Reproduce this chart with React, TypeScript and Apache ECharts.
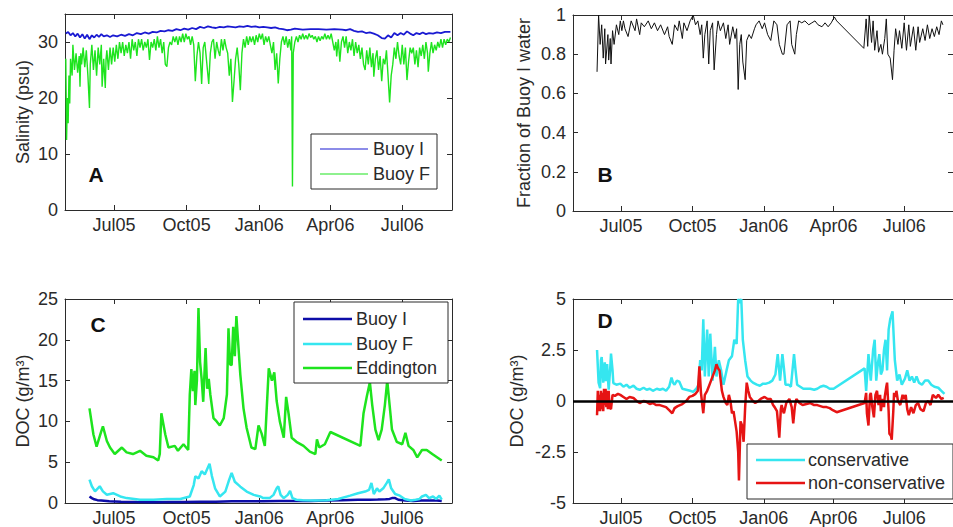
import React, { useEffect, useRef } from "react";
import * as echarts from "echarts";

// ---------- time axis (days counted from 2005-05-01) ----------
const DAY_MS = 86400000;
const DAY0 = Date.UTC(2005, 4, 1);
const X_START_DAY = -1; // 2005-04-30
const X_END_DAY = 489; // 2006-09-02
const tickDates = ["2005-07-01", "2005-10-01", "2006-01-01", "2006-04-01", "2006-07-01"];
const tickLabels = ["Jul05", "Oct05", "Jan06", "Apr06", "Jul06"];

// ---------- Panel A : salinity (psu) ----------
const salinityBuoyI: [number, number][] = [
  [0,31.5],[3,31.8],[6,31.2],[9,31.6],[12,31],[15,31.5],[18,30.8],[21,31.4],[24,30.6],[27,31.3],[30,30.5],[33,31.2],[36,30.8],[39,31.3],[42,30.9],[45,31.4],[48,31],[52,31.2],[56,30.9],[60,31.2],[65,31],[70,31.3],[75,31.1],[80,31.4],[85,31.2],[90,31.6],[95,31.4],[100,31.7],[105,31.5],[110,31.8],[115,31.7],[120,32],[125,31.9],[130,32.1],[135,32],[140,32.3],[145,32.1],[150,32.4],[155,32.2],[160,32.5],[165,32.3],[170,32.7],[175,32.5],[180,32.8],[185,32.6],[190,32.5],[195,32.7],[200,32.6],[205,32.8],[210,32.7],[215,32.6],[220,32.8],[225,32.7],[230,32.9],[235,32.7],[240,32.8],[245,32.6],[250,32.7],[255,32.6],[260,32.5],[265,32.6],[270,32.4],[275,32.3],[280,32.1],[285,32.2],[290,32.4],[295,32.3],[300,32.2],[310,32.3],[320,32.3],[330,32.2],[340,32.3],[350,32.2],[355,32.1],[360,32.3],[365,32],[370,31.8],[375,31.9],[380,31.6],[385,31.7],[390,31.5],[395,31.2],[400,30.7],[404,30.6],[408,31.2],[412,30.8],[416,31.6],[420,31.2],[424,31.6],[428,31.3],[432,31.9],[436,31.5],[440,31.2],[444,31.6],[448,31.4],[452,31.7],[456,31.4],[460,31.6],[465,31.5],[470,31.7],[475,31.6],[480,31.8],[487,31.8]
];
const salinityBuoyF: [number, number][] = [
  [0,27],[1,12.5],[2,20],[3,15.5],[4,24],[5,19],[6,27],[8,24],[9,29.5],[11,25],[13,28],[15,24.5],[17,27.5],[18,22],[19,28],[20,26],[22,29],[24,25.5],[26,28.5],[28,24],[30,18.2],[31,26],[33,29.5],[35,25],[37,28.5],[39,24],[41,29],[43,26],[45,29.5],[46,22],[48,27],[50,21.8],[51,27],[52,28.5],[54,25],[56,29],[58,26],[60,29],[62,26.5],[64,29.5],[66,27],[68,30],[70,28],[72,30],[74,27.5],[76,29.5],[78,28],[80,30],[82,27],[84,30.5],[86,28.5],[88,30],[90,27.5],[92,30.5],[94,29],[96,30.5],[98,28.5],[100,30],[102,29],[104,30.5],[106,26.8],[108,30],[110,29],[112,30.5],[114,28.5],[116,31],[118,29],[120,30.5],[122,28],[124,30],[126,26],[128,25.6],[130,29],[132,30],[134,29.5],[136,31],[138,30],[140,31],[142,29.5],[144,31],[146,30],[148,31.5],[150,30],[152,31.5],[154,30.5],[156,31],[158,29.5],[160,31],[162,29.5],[164,23],[166,27.5],[168,30],[170,28],[172,22.5],[174,29],[176,30],[178,27],[181,22.5],[183,28],[185,30],[187,30.5],[189,27],[191,30],[193,28.5],[195,27.5],[197,30.5],[199,28.5],[201,30.5],[203,29],[205,28],[207,24],[209,27],[211,19.3],[213,23],[215,27],[217,29],[219,26],[221,21.4],[223,28],[225,30.5],[227,29],[229,31],[231,29.5],[233,31],[235,30],[237,31],[239,29.5],[241,31.2],[243,30],[245,31.5],[247,30.5],[249,31.5],[251,29.5],[253,31],[255,30],[257,31],[259,29.5],[261,28],[263,30],[265,25],[267,28],[269,22.6],[271,27],[273,30],[275,31],[277,29.5],[279,31],[281,29],[283,30.5],[285,28.5],[286,31],[287,4.2],[288,28],[290,30],[292,31],[294,30],[296,31.2],[298,30.5],[300,31.5],[302,30.5],[304,31.2],[306,30.5],[308,31.5],[310,30.8],[312,31.2],[314,30.5],[316,31],[318,30],[320,31],[322,30.2],[324,31],[326,30.5],[328,31.5],[330,30.5],[332,31.2],[334,30.5],[336,31.5],[338,30],[340,28.5],[342,30],[343,27.4],[345,30.5],[347,26.5],[349,30],[351,31],[353,29],[355,31],[357,28],[359,30],[361,28.5],[363,30.5],[365,27.5],[367,30],[369,28],[371,29.5],[373,27],[375,29],[377,26],[379,25],[381,28.5],[383,26],[385,29],[387,25.5],[389,28],[390,23.8],[392,27],[394,28.5],[396,25],[398,27.5],[400,23],[402,27],[404,26],[406,28.5],[408,24],[410,19.2],[412,24],[414,26],[416,29],[418,27],[420,30],[422,27.5],[424,26],[426,29.5],[428,26],[430,29],[432,23.2],[434,26.5],[436,29],[438,28],[440,29],[442,26],[444,28.5],[446,25.5],[448,29],[450,27.5],[452,29.5],[454,27],[456,30],[458,28],[459,24.7],[461,28],[463,30],[465,28],[467,29.5],[469,28.5],[471,30],[473,29],[475,30.5],[477,29],[479,30.5],[481,29.5],[483,30.5],[485,30],[487,30.8]
];

// ---------- Panel B : fraction of Buoy I water ----------
const fractionBuoyI: [number, number][] = [
  [30,0.71],[32,1.0],[34,0.85],[36,0.95],[38,0.78],[40,0.93],[41,0.75],[44,0.9],[45,0.77],[47,0.88],[48,0.75],[50,0.92],[52,0.85],[55,0.95],[58,0.9],[60,0.97],[62,0.92],[64,0.97],[66,0.93],[70,0.89],[74,0.97],[79,0.92],[81,0.98],[85,0.9],[87,0.96],[91,0.94],[96,0.97],[100,0.93],[104,0.96],[108,0.92],[112,0.95],[117,0.9],[121,0.94],[123,0.89],[127,0.85],[130,0.95],[134,0.92],[136,0.97],[140,0.88],[142,0.96],[146,0.92],[150,0.97],[154,1.0],[157,0.95],[160,0.97],[163,0.9],[165,0.95],[167,0.78],[169,0.9],[172,0.97],[174,0.75],[176,0.92],[179,0.96],[181,0.72],[184,0.9],[186,0.97],[189,0.92],[193,0.96],[196,0.88],[199,0.95],[201,0.85],[205,0.94],[208,0.88],[210,0.93],[212,0.62],[214,0.85],[216,0.9],[218,0.76],[221,0.67],[223,0.87],[226,0.9],[229,0.88],[233,0.93],[235,0.95],[239,0.97],[243,0.93],[246,0.96],[250,0.9],[254,0.87],[258,0.97],[262,0.95],[265,0.85],[269,0.8],[271,0.8],[275,0.95],[279,0.97],[281,0.85],[285,0.8],[287,0.9],[290,0.97],[294,0.96],[298,0.97],[303,0.95],[307,0.96],[311,0.97],[315,0.95],[320,0.94],[324,0.96],[328,0.94],[332,0.96],[336,0.99],[339,0.97],[374,0.83],[377,0.98],[379,0.84],[381,1.0],[384,0.86],[386,0.97],[388,0.82],[391,0.92],[393,0.81],[396,0.85],[398,0.8],[401,0.88],[403,0.98],[405,0.8],[408,0.78],[411,0.67],[413,0.82],[415,0.93],[418,0.85],[420,0.92],[423,0.83],[426,0.96],[429,0.82],[432,0.95],[434,0.84],[438,0.94],[441,0.82],[444,0.94],[446,0.86],[450,0.93],[453,0.87],[456,0.95],[459,0.88],[462,0.93],[465,0.89],[468,0.94],[471,0.9],[474,0.97],[476,0.95]
];

// ---------- Panel C : DOC (g/m3) ----------
const docBuoyI: [number, number][] = [
  [30,0.8],[33,0.6],[36,0.45],[40,0.35],[45,0.3],[55,0.2],[70,0.15],[90,0.12],[110,0.1],[130,0.12],[150,0.12],[170,0.15],[190,0.15],[210,0.2],[230,0.2],[250,0.2],[270,0.25],[290,0.25],[310,0.25],[330,0.3],[350,0.35],[370,0.4],[385,0.4],[395,0.42],[405,0.45],[410,0.5],[413,0.6],[417,0.6],[421,0.4],[430,0.3],[440,0.25],[450,0.3],[460,0.3],[470,0.3],[476,0.25]
];
const docBuoyF: [number, number][] = [
  [30,2.86],[33,2.05],[37,1.43],[43,2.05],[47,1.43],[52,1.02],[60,1.2],[69,0.8],[77,0.6],[94,0.4],[111,0.4],[128,0.5],[145,0.5],[157,0.8],[162,2.2],[164,3.27],[168,3.0],[172,3.9],[176,3.5],[182,4.8],[185,3.3],[189,1.8],[195,0.8],[202,1.4],[206,2.6],[210,3.7],[214,2.6],[221,2.0],[229,1.4],[238,1.0],[246,0.8],[250,0.6],[258,0.6],[263,1.0],[267,1.8],[269,2.05],[272,1.0],[276,0.6],[281,1.0],[284,1.5],[287,0.6],[292,0.4],[300,0.35],[315,0.3],[330,0.35],[345,0.5],[360,0.9],[370,1.2],[379,1.4],[384,1.6],[387,2.45],[390,1.1],[394,1.8],[397,1.4],[402,1.8],[406,2.4],[409,2.9],[412,1.8],[417,1.1],[423,0.9],[429,0.5],[437,0.3],[443,0.4],[448,0.5],[451,0.8],[456,1.0],[460,0.6],[465,0.8],[469,0.5],[473,0.9],[476,0.4]
];
const docEddington: [number, number][] = [
  [30,11.6],[35,8.4],[39,6.9],[45,8.8],[47,9.4],[52,7.6],[56,6.8],[62,6.0],[71,6.8],[77,6.2],[85,6.0],[94,6.4],[102,5.8],[111,5.6],[117,5.2],[119,6.0],[121,11.0],[126,8.4],[130,6.8],[138,7.0],[142,6.4],[149,7.2],[155,6.5],[157,13.3],[159,16.4],[161,13.7],[163,16.2],[164,12],[166,15.0],[168,23.9],[170,17.3],[172,15.2],[174,12.4],[177,19.0],[179,14],[181,15.2],[183,13.3],[187,10.4],[191,10.0],[195,9.5],[200,10.4],[204,13.3],[206,21.4],[208,17],[210,16.9],[212,21.6],[214,18],[216,22.9],[218,20],[221,15.7],[225,11.6],[229,9.2],[235,6.8],[240,6.6],[244,9.5],[248,8.5],[252,7],[257,16.5],[261,15],[264,16],[267,12.5],[271,10],[276,8],[279,13],[282,11],[286,8],[292,7.5],[301,7],[309,6.3],[316,6],[318,7.8],[321,6.8],[328,7.2],[335,8.7],[373,7],[377,11],[381,13],[385,14.8],[388,12],[392,9],[396,7.7],[400,9],[404,12],[407,15],[410,12],[413,9],[419,7.5],[426,7.2],[430,8.6],[434,7],[440,6.5],[445,5.6],[451,6.5],[457,6.5],[464,6],[470,5.6],[476,5.2]
];

// ---------- Panel D : DOC decomposition (g/m3) ----------
const docConservative: [number, number][] = [
  [30,2.5],[32,0.9],[34,0.63],[35,2.0],[36,2.15],[38,0.9],[40,1.9],[41,0.97],[43,1.81],[45,0.55],[47,1.6],[48,2.32],[50,1.5],[51,0.88],[55,0.8],[60,0.85],[64,0.7],[68,0.8],[72,0.65],[77,0.75],[81,0.6],[85,0.55],[90,0.65],[94,0.55],[98,0.6],[102,0.5],[107,0.6],[111,0.55],[115,0.6],[119,0.5],[123,0.7],[126,1.15],[128,0.9],[130,0.8],[133,1.0],[136,0.95],[140,0.6],[145,0.55],[150,0.5],[154,0.45],[158,0.6],[161,0.8],[163,2.0],[165,1.5],[167,4.0],[169,1.2],[172,3.5],[174,1.2],[176,3.3],[179,1.0],[182,2.65],[184,1.2],[187,2.0],[190,1.5],[193,0.8],[197,1.5],[200,2.0],[204,2.2],[207,3.0],[210,2.8],[212,5.0],[214,4.8],[216,5.0],[218,3.0],[221,2.0],[224,1.2],[228,1.0],[231,0.9],[236,0.8],[240,0.75],[244,0.85],[248,0.85],[252,0.9],[256,1.0],[260,1.3],[263,2.3],[266,1.0],[269,2.3],[271,1.6],[273,0.8],[277,0.8],[280,0.7],[284,2.3],[286,1.5],[288,0.8],[292,0.7],[296,0.6],[301,0.6],[305,0.6],[310,0.55],[314,0.6],[318,0.7],[322,0.75],[326,0.7],[330,0.6],[335,0.6],[375,1.6],[377,0.5],[380,2.3],[383,1.0],[386,2.5],[388,3.0],[390,1.0],[392,1.8],[394,2.3],[396,1.3],[398,1.5],[400,2.5],[402,3.0],[404,1.5],[406,3.5],[408,4.0],[411,4.4],[414,2.0],[417,1.0],[420,1.3],[423,0.8],[427,1.1],[430,1.5],[433,1.0],[436,1.2],[439,0.9],[442,1.2],[445,0.9],[449,0.8],[453,1.0],[457,1.0],[461,0.8],[465,0.7],[470,0.65],[474,0.5],[478,0.35]
];
const docNonConservative: [number, number][] = [
  [30,-0.7],[31,0.5],[32,-0.5],[33,0.3],[34,-0.5],[35,0.5],[36,-0.4],[37,0.4],[38,-0.5],[39,0.6],[40,-0.2],[41,0.6],[42,-0.3],[43,0.5],[44,-0.4],[45,0.5],[46,-0.3],[48,-0.4],[50,0.3],[53,0.25],[57,0.35],[60,0.3],[64,0.2],[68,0.1],[72,0.2],[77,0.15],[81,0.0],[85,-0.1],[90,0.0],[94,-0.05],[98,-0.15],[102,-0.1],[106,-0.2],[111,-0.2],[115,-0.25],[119,-0.3],[123,-0.45],[127,-0.6],[130,-0.35],[134,-0.25],[140,-0.15],[145,0.0],[149,0.2],[153,0.25],[157,0.35],[160,0.5],[162,1.7],[164,0.4],[167,-0.6],[169,0.3],[172,0.5],[174,0.7],[177,1.0],[179,1.2],[182,1.5],[184,1.8],[186,1.6],[188,1.5],[191,0.5],[193,0.2],[196,-0.1],[198,-0.2],[200,0.3],[202,0.0],[204,-0.6],[206,-0.5],[208,-1.0],[210,-1.5],[212,-2.5],[213,-3.9],[215,-1.0],[217,-1.2],[219,-2.0],[221,-0.3],[223,0.9],[225,0.5],[227,0.2],[231,0.0],[234,-0.1],[238,0.0],[241,0.1],[246,0.2],[250,0.1],[254,0.1],[257,-0.2],[259,-0.3],[262,-0.5],[265,-1.8],[267,-0.4],[268,-0.2],[270,-0.5],[271,-0.6],[274,-0.1],[278,0.1],[281,-0.3],[283,-1.1],[285,-0.3],[287,0.1],[291,-0.1],[295,-0.2],[300,-0.15],[305,-0.1],[310,-0.2],[314,-0.2],[318,-0.25],[322,-0.3],[326,-0.3],[330,-0.35],[334,-0.45],[339,-0.55],[375,-0.1],[377,0.4],[378,-0.6],[380,-1.2],[382,0.3],[383,0.4],[385,-0.3],[387,-0.8],[389,0.3],[391,0.5],[393,-0.2],[395,0.3],[396,-0.5],[398,0.1],[400,-0.3],[401,0.2],[403,0.7],[404,0.9],[406,-0.5],[407,-1.6],[409,-1.7],[410,-1.9],[412,-0.5],[413,0.4],[415,0.2],[416,0.5],[418,0.0],[421,-0.2],[424,0.3],[426,0.1],[428,0.3],[430,-0.4],[432,-0.7],[435,-0.3],[438,-0.6],[441,-0.2],[444,-0.1],[447,-0.4],[451,-0.5],[454,-0.1],[457,0.0],[460,-0.2],[463,0.3],[467,0.15],[470,0.3],[474,0.1],[477,0.15]
];

// ---------- y axes ----------
const yTicksA = [0, 10, 20, 30];
const yTicksB = [0, 0.2, 0.4, 0.6, 0.8, 1];
const yTicksC = [0, 5, 10, 15, 20, 25];
const yTicksD = [-5, -2.5, 0, 2.5, 5];

// ---------- style ----------
const FONT = "'Liberation Sans', Arial, Helvetica, sans-serif";
const INK = "#2a2a2a";
const FRAME = "#2b2b2b";
const BLUE_A = "#1a1ad2";
const GREEN = "#1ee41e";
const BLACK = "#111111";
const NAVY = "#0d0da8";
const CYAN = "#35e6f0";
const RED = "#e61414";

const toTs = (d: number) => DAY0 + d * DAY_MS;
const tickTs = tickDates.map((s) => Date.parse(s + "T00:00:00Z"));
const pts = (arr: [number, number][]) => arr.map(([d, v]) => [toTs(d), v]);

function buildOption() {
  const grids = [
    { left: 65, top: 14, width: 387, height: 196 },
    { left: 573, top: 15, width: 387, height: 196 },
    { left: 65, top: 299, width: 387, height: 204 },
    { left: 573, top: 299, width: 387, height: 204 },
  ];
  const line = { show: true, onZero: false, lineStyle: { color: FRAME, width: 1 } };
  const tick = (vals: number[]) => ({
    show: true, inside: true, length: 5, customValues: vals, lineStyle: { color: FRAME, width: 1 },
  });
  const xFormatter = (v: number) => {
    const i = tickTs.findIndex((t) => Math.abs(t - v) < DAY_MS / 2);
    return i >= 0 ? tickLabels[i] : "";
  };
  const xAxis: any[] = [];
  const yAxis: any[] = [];
  const ySpecs = [
    { min: 0, max: 35, ticks: yTicksA, name: "Salinity (psu)", gap: 33 },
    { min: 0, max: 1, ticks: yTicksB, name: "Fraction of Buoy I water", gap: 40 },
    { min: 0, max: 25, ticks: yTicksC, name: "DOC (g/m³)", gap: 33 },
    { min: -5, max: 5, ticks: yTicksD, name: "DOC (g/m³)", gap: 47 },
  ];
  grids.forEach((_, g) => {
    xAxis.push({
      type: "value", gridIndex: g, position: "bottom",
      min: toTs(X_START_DAY), max: toTs(X_END_DAY),
      axisLine: line, axisTick: tick(tickTs),
      axisLabel: { customValues: tickTs, formatter: xFormatter, fontSize: 18, fontFamily: FONT, color: INK, margin: 6 },
      splitLine: { show: false },
    });
    xAxis.push({
      type: "value", gridIndex: g, position: "top",
      min: toTs(X_START_DAY), max: toTs(X_END_DAY),
      axisLine: line, axisTick: tick(tickTs), axisLabel: { show: false },
      splitLine: { show: false },
    });
    const s = ySpecs[g];
    yAxis.push({
      type: "value", gridIndex: g, position: "left", min: s.min, max: s.max,
      name: s.name, nameLocation: "middle", nameGap: s.gap,
      nameTextStyle: { fontSize: 18, fontFamily: FONT, color: INK },
      axisLine: line, axisTick: tick(s.ticks),
      axisLabel: { customValues: s.ticks, fontSize: 18, fontFamily: FONT, color: INK, margin: 7 },
      splitLine: { show: false },
    });
    yAxis.push({
      type: "value", gridIndex: g, position: "right", min: s.min, max: s.max,
      axisLine: line, axisTick: tick(s.ticks), axisLabel: { show: false },
      splitLine: { show: false },
    });
  });

  const ser = (name: string, g: number, data: [number, number][], color: string, width: number, extra: any = {}) => ({
    type: "line", name, xAxisIndex: 2 * g, yAxisIndex: 2 * g, data: pts(data),
    showSymbol: false, symbol: "none", lineStyle: { color, width }, itemStyle: { color },
    emphasis: { disabled: true }, silent: true, ...extra,
  });

  const series = [
    ser("Buoy I", 0, salinityBuoyI, BLUE_A, 1.8),
    ser("Buoy F", 0, salinityBuoyF, GREEN, 1.4),
    ser("Fraction of Buoy I water", 1, fractionBuoyI, BLACK, 1),
    ser("Buoy I", 2, docBuoyI, NAVY, 2.5),
    ser("Buoy F", 2, docBuoyF, CYAN, 2.5),
    ser("Eddington", 2, docEddington, GREEN, 2.5),
    ser("conservative", 3, docConservative, CYAN, 2.5),
    ser("non-conservative", 3, docNonConservative, RED, 2.5, {
      markLine: {
        silent: true, symbol: ["none", "none"], label: { show: false },
        lineStyle: { color: "#000", width: 2.5, type: "solid" },
        data: [{ yAxis: 0 }],
      },
    }),
  ];

  const txt = (text: string, x: number, y: number, bold = false) => ({
    type: "text", x, y, z: 102,
    style: {
      text, fontSize: bold ? 21 : 18, fontFamily: FONT, fontWeight: bold ? "bold" : "normal",
      fill: bold ? "#111" : INK, align: bold ? "center" : "left", verticalAlign: "middle",
    },
  });
  const box = (x: number, y: number, w: number, h: number) => ({
    type: "rect", z: 100, shape: { x, y, width: w, height: h },
    style: { fill: "#fff", stroke: FRAME, lineWidth: 1 },
  });
  const key = (x1: number, x2: number, y: number, color: string, width: number) => ({
    type: "line", z: 101, shape: { x1, y1: y, x2, y2: y }, style: { stroke: color, lineWidth: width },
  });

  const graphic = [
    txt("A", 96, 174, true),
    txt("B", 605, 174, true),
    txt("C", 98, 324, true),
    txt("D", 605, 320, true),
    box(311, 134, 126, 55),
    key(320, 368, 149, BLUE_A, 1.2), txt("Buoy I", 373, 149),
    key(320, 368, 174, GREEN, 1.2), txt("Buoy F", 373, 174),
    box(294, 302, 154, 81),
    key(303, 352, 319, NAVY, 2.5), txt("Buoy I", 356, 319),
    key(303, 352, 344, CYAN, 2.5), txt("Buoy F", 356, 344),
    key(303, 352, 368, GREEN, 2.5), txt("Eddington", 356, 368),
    box(747, 444, 206, 55),
    key(756, 805, 460, CYAN, 2.5), txt("conservative", 808, 460),
    key(756, 805, 483, RED, 2.5), txt("non-conservative", 808, 483),
  ];

  return {
    animation: false,
    backgroundColor: "#ffffff",
    textStyle: { fontFamily: FONT },
    grid: grids,
    xAxis,
    yAxis,
    series,
    graphic,
  };
}

export default function App() {
  const ref = useRef<HTMLDivElement>(null);
  useEffect(() => {
    if (!ref.current) return;
    const chart = echarts.init(ref.current, null, { renderer: "svg" });
    chart.setOption(buildOption() as any);
    return () => chart.dispose();
  }, []);
  return (
    <div
      ref={ref}
      style={{ position: "fixed", left: 0, top: 0, width: 953, height: 527, background: "#fff" }}
    />
  );
}
